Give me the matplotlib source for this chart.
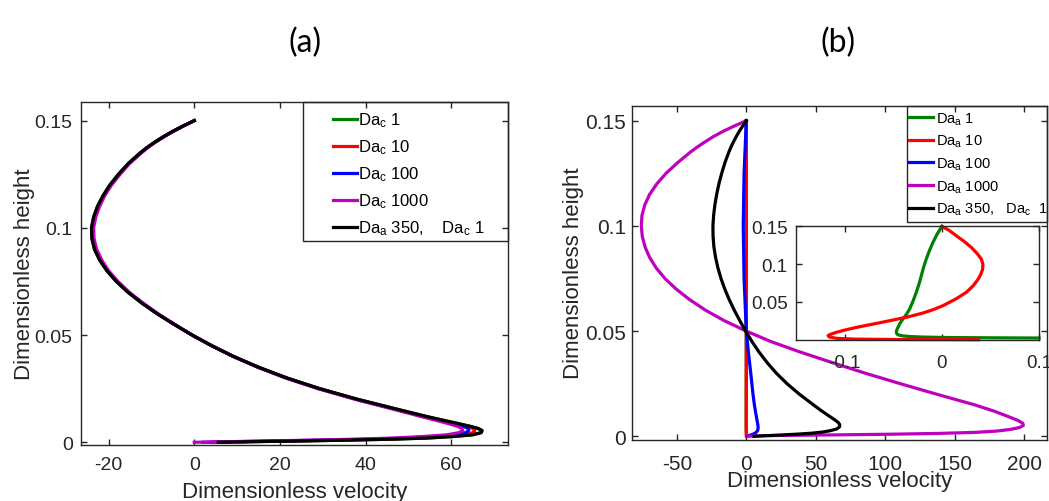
import matplotlib
matplotlib.use('Agg')
import matplotlib.pyplot as plt
from matplotlib.patches import Rectangle

plt.rcParams['font.family'] = 'Liberation Sans'
plt.rcParams['mathtext.default'] = 'regular'
plt.rcParams['axes.unicode_minus'] = False
plt.rcParams['xtick.labelsize'] = 14
plt.rcParams['ytick.labelsize'] = 14

# ---- panel (a): Da_c varied, all share one height grid ----
h_a = [0.15, 0.1475, 0.145, 0.1425, 0.14, 0.1375, 0.135, 0.13, 0.125, 0.12,
       0.115, 0.11, 0.105, 0.1, 0.095, 0.09, 0.085, 0.08, 0.075, 0.07,
       0.065, 0.06, 0.055, 0.05, 0.045, 0.04, 0.035, 0.03, 0.025, 0.02,
       0.015, 0.012, 0.009, 0.0075, 0.0065, 0.0055, 0.0045, 0.0035, 0.0027, 0.002,
       0.0015, 0.0011, 0.0007, 0.0004, 0.0001, 0.0]
u_dac1 = [0, -2.6, -5.0, -7.2, -9.2, -11.0, -12.6, -15.4, -17.7, -19.7,
          -21.3, -22.6, -23.5, -24.0, -23.9, -23.3, -22.1, -20.4, -18.2, -15.5,
          -12.3, -8.7, -4.7, -0.5, 4.1, 9.2, 15.0, 21.6, 29.3, 38.2,
          48.2, 54.3, 61.0, 64.3, 66.2, 67.2, 67.0, 65.0, 60.5, 54.5,
          47.0, 38.0, 27.0, 17.0, 8.0, 5.6]
u_dac10 = [0, -2.6, -5.0, -7.15, -9.15, -10.95, -12.5, -15.3, -17.6, -19.6,
           -21.2, -22.5, -23.4, -23.9, -23.8, -23.2, -22.0, -20.3, -18.1, -15.4,
           -12.2, -8.65, -4.7, -0.5, 4.1, 9.2, 14.95, 21.5, 29.2, 38.05,
           47.95, 53.95, 60.4, 63.5, 65.0, 65.5, 65.1, 63.0, 58.0, 52.0,
           44.0, 35.0, 24.5, 15.0, 6.0, 4.0]
u_dac100 = [0, -2.55, -4.95, -7.1, -9.1, -10.9, -12.45, -15.25, -17.5, -19.5,
            -21.1, -22.35, -23.25, -23.75, -23.65, -23.05, -21.85, -20.2, -18.0, -15.35,
            -12.15, -8.6, -4.65, -0.5, 4.1, 9.15, 14.9, 21.45, 29.1, 37.9,
            47.7, 53.6, 59.9, 62.8, 63.9, 64.1, 63.4, 61.0, 56.0, 49.5,
            41.5, 32.5, 22.0, 13.0, 4.5, 2.0]
u_dac1000 = [0, -2.5, -4.9, -7.0, -9.0, -10.8, -12.3, -15.1, -17.3, -19.3,
             -20.9, -22.1, -23.0, -23.5, -23.4, -22.8, -21.6, -20.0, -17.8, -15.2,
             -12.0, -8.5, -4.6, -0.5, 4.1, 9.1, 14.8, 21.3, 28.9, 37.6,
             47.3, 53.0, 58.8, 61.4, 62.5, 62.7, 61.8, 59.0, 53.5, 46.5,
             38.5, 29.5, 19.5, 11.0, 3.0, 0.0]
# Da_a 350, Da_c 1 (same curve in both panels)
u_ref = [0, -2.6, -5.0, -7.2, -9.2, -11.0, -12.6, -15.4, -17.7, -19.7,
         -21.3, -22.6, -23.5, -24.0, -23.9, -23.3, -22.1, -20.4, -18.2, -15.5,
         -12.3, -8.7, -4.7, -0.5, 4.1, 9.2, 15.0, 21.6, 29.3, 38.2,
         48.2, 54.3, 61.0, 64.3, 66.2, 67.2, 67.0, 65.0, 60.5, 54.5,
         47.0, 38.0, 27.0, 17.0, 8.0, 5.6]

# ---- panel (b): Da_a varied ----
h_da1 = [0.15, 0.14, 0.1288, 0.118, 0.1068, 0.096, 0.0847, 0.0735, 0.0626, 0.051,
         0.0406, 0.0335, 0.0274, 0.0215, 0.0163, 0.0125, 0.0097, 0.0075, 0.006, 0.005,
         0.0042, 0.0035, 0.0029, 0.0025, 0.0022]
u_da1 = [0, -0.0048, -0.0092, -0.0128, -0.0161, -0.0188, -0.0212, -0.0236, -0.0264, -0.0297,
         -0.0332, -0.0365, -0.0401, -0.0432, -0.0452, -0.0465, -0.0469, -0.0462, -0.044, -0.04,
         -0.033, -0.02, 0.005, 0.05, 0.0997]
h_da10 = [0.15, 0.1445, 0.1376, 0.13, 0.1222, 0.114, 0.1068, 0.1, 0.093, 0.0863,
          0.08, 0.0715, 0.0626, 0.054, 0.045, 0.04, 0.0353, 0.03, 0.0251, 0.0205,
          0.0163, 0.0127, 0.0097, 0.0072, 0.0053, 0.0035, 0.0018, 0.0008, 0.0003, 0.0]
u_da10 = [0, 0.0075, 0.0147, 0.0228, 0.0301, 0.0362, 0.0404, 0.0421, 0.0418, 0.0398,
          0.0372, 0.0322, 0.025, 0.0145, 0.001, -0.0085, -0.0195, -0.0355, -0.0538, -0.0715,
          -0.088, -0.1, -0.1086, -0.1145, -0.1171, -0.1155, -0.108, -0.09, -0.05, 0.0377]
h_da100 = [0.15, 0.125, 0.1, 0.075, 0.05, 0.04, 0.03, 0.02, 0.015, 0.011,
           0.008, 0.0055, 0.004, 0.0028, 0.0018, 0.001, 0.0004, 0.0]
u_da100 = [0, -1.6, -2.2, -1.6, 0, 1.5, 3.2, 4.8, 5.8, 6.8,
           7.6, 8.3, 8.5, 8.2, 7.0, 4.8, 2.0, 0.7]
h_da1000 = [0.15, 0.1475, 0.145, 0.1425, 0.14, 0.1375, 0.135, 0.13, 0.125, 0.12,
            0.115, 0.11, 0.105, 0.1, 0.095, 0.09, 0.085, 0.08, 0.075, 0.07,
            0.065, 0.06, 0.055, 0.05, 0.045, 0.04, 0.035, 0.03, 0.025, 0.02,
            0.015, 0.012, 0.0095, 0.0075, 0.0062, 0.0052, 0.0042, 0.0033, 0.0025, 0.0019,
            0.0014, 0.001, 0.0007, 0.0005, 0.0003, 0.0001, 0.0]
u_da1000 = [0, -8.5, -16.5, -23.5, -29.5, -35.2, -40.3, -49.5, -57.7, -64.3,
            -69.5, -73.0, -75.0, -75.5, -74.8, -72.8, -69.5, -64.8, -58.5, -50.5,
            -40.8, -29.5, -16.0, 0.0, 17.8, 39.0, 62.0, 85.5, 110.8, 137.0,
            164.0, 178.0, 188.0, 195.5, 198.8, 199.2, 196.5, 190.0, 180.0, 165.0,
            139.2, 103.0, 65.0, 35.0, 12.0, 3.0, 1.0]

labels_a = ['Da$_c$ 1', 'Da$_c$ 10', 'Da$_c$ 100', 'Da$_c$ 1000',
            'Da$_a$ 350,    Da$_c$ 1']
labels_b = ['Da$_a$ 1', 'Da$_a$ 10', 'Da$_a$ 100', 'Da$_a$ 1000',
            'Da$_a$ 350,   Da$_c$  1']
colors = ['#008000', '#ff0000', '#0000ff', '#bf00bf', '#000000']
axcol = '#262626'
lw = 2.3


def matlab_style(ax, size=14):
    for s in ax.spines.values():
        s.set_color(axcol)
        s.set_linewidth(1.0)
    ax.tick_params(direction='in', top=True, right=True, length=4,
                   width=1.0, color=axcol, labelcolor=axcol, labelsize=size)


fig = plt.figure(figsize=(10.49, 5.02), dpi=100)

# ---------------- (a) ----------------
ax1 = fig.add_axes([0.0772, 0.1116, 0.4070, 0.6833])
for u, c, lab in zip([u_dac1, u_dac10, u_dac100, u_dac1000, u_ref], colors, labels_a):
    ax1.plot(u, h_a, color=c, lw=lw, label=lab)
ax1.set_xlim(-26.45, 73.24)
ax1.set_ylim(-0.00125, 0.1587)
ax1.set_xticks([-20, 0, 20, 40, 60])
ax1.set_yticks([0, 0.05, 0.1, 0.15], ['0', '0.05', '0.1', '0.15'])
matlab_style(ax1)
ax1.tick_params(axis='y', pad=6)
ax1.tick_params(axis='x', pad=8)
ax1.set_xlabel('Dimensionless velocity', fontsize=16, color=axcol, labelpad=6)
ax1.set_ylabel('Dimensionless height', fontsize=16, color=axcol, labelpad=0)
ax1.add_patch(Rectangle((0.52, 0.5948), 0.48, 0.4052, transform=ax1.transAxes,
                        fill=False, edgecolor=axcol, lw=1.0, clip_on=False, zorder=5))
ax1.legend(loc='upper left', bbox_to_anchor=(0.591, 0.975), frameon=False,
           fontsize=12, handlelength=1.4, handletextpad=0.1, borderpad=0,
           borderaxespad=0, labelspacing=0.5)
fig.text(0.291, 0.915, '(a)', fontsize=23, family='Lato', ha='center', va='center')

# ---------------- (b) ----------------
ax2 = fig.add_axes([0.6022, 0.1221, 0.3959, 0.6657])
hs = [h_da1, h_da10, h_da100, h_da1000, h_a]
us = [u_da1, u_da10, u_da100, u_da1000, u_ref]
for h, u, c, lab in zip(hs, us, colors, labels_b):
    ax2.plot(u, h, color=c, lw=lw, label=lab)
ax2.set_xlim(-82.4, 216.2)
ax2.set_ylim(-0.0016, 0.1572)
ax2.set_xticks([-50, 0, 50, 100, 150, 200])
ax2.set_yticks([0, 0.05, 0.1, 0.15], ['0', '0.05', '0.1', '0.15'])
matlab_style(ax2, 15)
ax2.tick_params(axis='y', pad=4)
ax2.tick_params(axis='x', pad=10)
ax2.set_xlabel('Dimensionless velocity', fontsize=16, color=axcol, labelpad=-2)
ax2.set_ylabel('Dimensionless height', fontsize=16, color=axcol, labelpad=1)
ax2.add_patch(Rectangle((0.6622, 0.6505), 0.3378, 0.3495, transform=ax2.transAxes,
                        fill=False, edgecolor=axcol, lw=1.0, clip_on=False, zorder=5))
ax2.legend(loc='upper left', bbox_to_anchor=(0.668, 0.985), frameon=False,
           fontsize=10.5, handlelength=1.65, handletextpad=0.2, borderpad=0,
           borderaxespad=0, labelspacing=0.42)
fig.text(0.799, 0.915, '(b)', fontsize=23, family='Lato', ha='center', va='center')

# inset: Da_a 1 and 10 zoomed
axi = fig.add_axes([0.7588, 0.3213, 0.2319, 0.2259], zorder=10)
axi.plot(u_da1, h_da1, color=colors[0], lw=lw, clip_on=False)
axi.plot(u_da10, h_da10, color=colors[1], lw=lw, clip_on=False)
axi.set_xlim(-0.15, 0.1)
axi.set_ylim(0, 0.15)
axi.set_xticks([-0.1, 0, 0.1], ['-0.1', '0', '0.1'])
axi.set_yticks([0.05, 0.1, 0.15], ['0.05', '0.1', '0.15'])
matlab_style(axi, 13.5)
axi.tick_params(axis='y', pad=6)
axi.tick_params(axis='x', pad=10)

fig.savefig('out.png', dpi=100)
